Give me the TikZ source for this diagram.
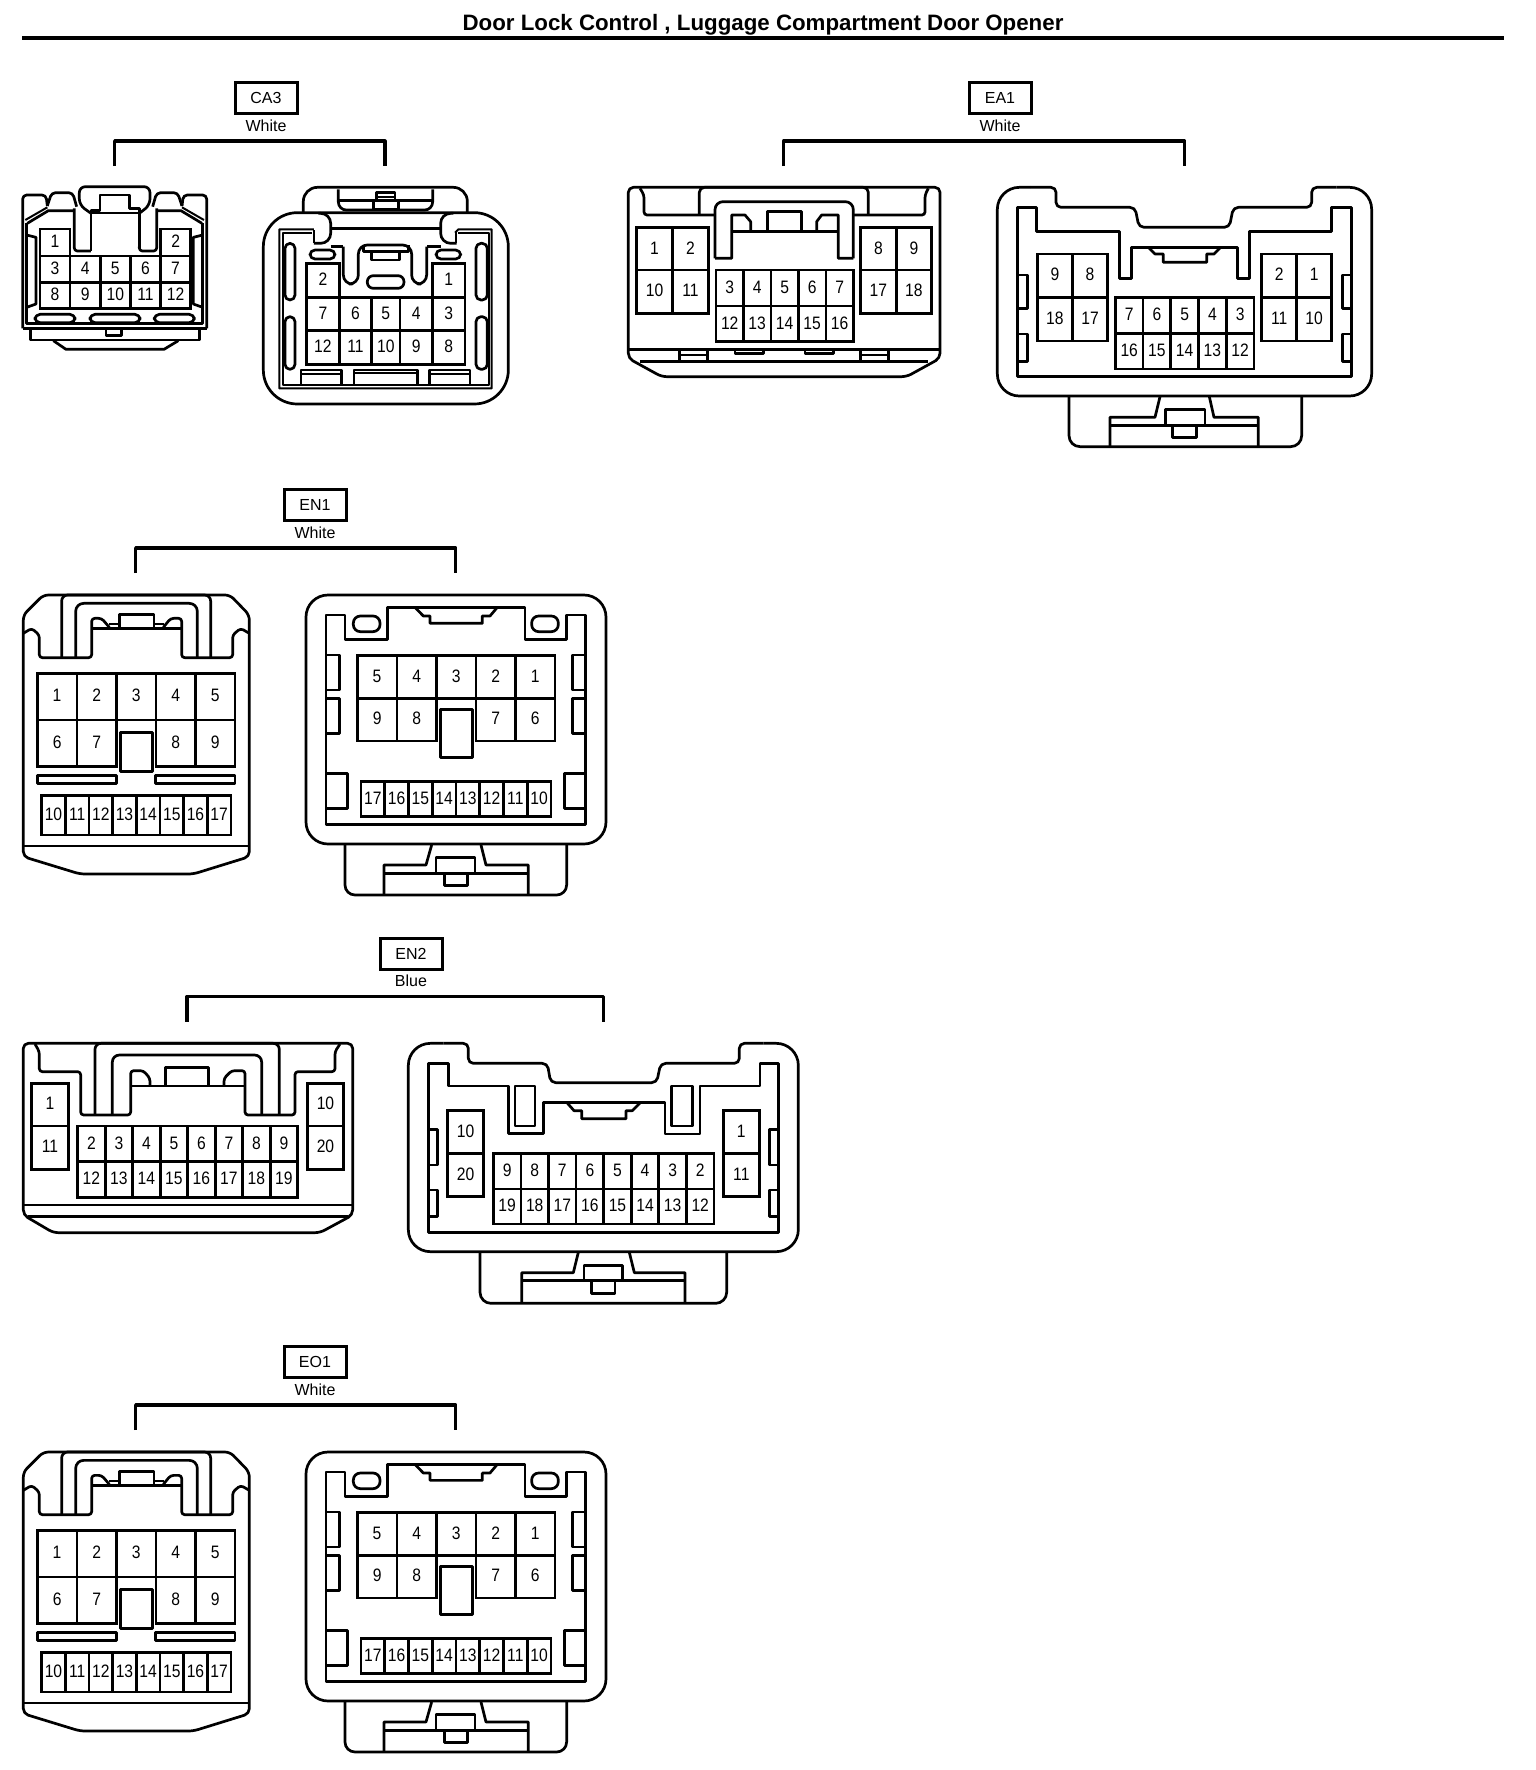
\documentclass[tikz,border=0pt]{standalone}
\usepackage{fontspec}
\setmainfont{Liberation Sans}
\newfontfamily\cellfont[FakeStretch=0.87]{Liberation Sans}
\usetikzlibrary{positioning}
\tikzset{
	outline/.style={line width=2.7pt,line join=round},
	thinline/.style={line width=2pt,line join=round},
	cell/.style={draw,line width=2.7pt,inner sep=0pt,text depth=2pt,font=\cellfont\fontsize{18}{18}\selectfont},
	conn box/.style={draw,line width=3pt,inner sep=0pt,minimum width=62pt,minimum height=31pt,font=\fontsize{16}{16}\selectfont},
	conn text/.style={inner sep=0pt,font=\fontsize{16}{16}\selectfont},
	bracket/.style={line width=3.2pt,line join=round}
}
% one row of cells: prefix, left, top, cell width, cell height, labels
\newcommand{\cellrow}[6]{%
	\foreach \lbl [count=\i from 0] in {#6}
	\node[cell,minimum width=#4/3,minimum height=#5/3] (#1\lbl) at ({#2+\i*#4+#4/2},{#3+#5/2}) {\lbl};
}
% label box, colour and the bracket under it
\newcommand{\connlabel}[7]{%
	\node[conn box] (#1box) at (#3,#4) {#2};
	\node[conn text,below=4.5pt of #1box] (#1col) {#5};
	\coordinate (#1left) at (#6,#4+68);
	\coordinate (#1right) at (#7,#4+68);
	\draw[bracket] (#1left) -- ++(0,-25) -| (#1right);
}
\begin{document}
\begin{tikzpicture}[x=1pt,y=-1pt]
	\useasboundingbox (0,0) rectangle (1536,1770);
	\node[inner sep=0pt,font=\bfseries\fontsize{22.3}{22.3}\selectfont] (title) at (763,25) {Door Lock Control , Luggage Compartment Door Opener};
	\coordinate (ruleleft) at (22,38);
	\coordinate (ruleright) at (1504,38);
	\draw[line width=4pt] (ruleleft) -- (ruleright);

	% CA3
	\connlabel{ca}{CA3}{266}{98}{White}{114.6}{385}
	\begin{scope}[shift={(10,180)},scale=1/3]
		\draw[outline,rounded corners=4pt] (38,445) -- (38,45) -- (108,45) -- (112,78);
		\draw[outline,rounded corners=4pt] (590,445) -- (590,45) -- (520,45) -- (516,78);
		\draw[outline,rounded corners=4pt] (112,78) -- (125,38) -- (188,38) -- (200,80);
		\draw[outline,rounded corners=4pt] (516,78) -- (503,38) -- (440,38) -- (428,80);
		\draw[outline,rounded corners=6pt] (243,100) -- (208,75) -- (208,20) -- (420,20) -- (420,75) -- (388,100);
		\draw[outline] (243,213) -- (243,92) -- (270,92) -- (270,45) -- (358,45) -- (358,85) -- (388,85) -- (388,205);
		\draw[thinline] (243,98) -- (388,98);
		\draw[outline,rounded corners=3pt] (388,200) -- (388,213) -- (440,213) -- (440,85);
		\draw[outline,rounded corners=3pt] (243,213) -- (193,213) -- (193,85);
		\draw[outline] (52,130) -- (115,92) -- (193,92);
		\draw[thinline] (46,120) -- (112,82);
		\draw[outline] (576,130) -- (513,92) -- (440,92);
		\draw[thinline] (582,120) -- (516,82);
		\draw[outline] (50,130) -- (50,430) -- (578,430) -- (578,130);
		\draw[outline] (50,165) -- (78,172) -- (78,372) -- (50,382);
		\draw[outline] (578,165) -- (550,172) -- (550,372) -- (578,382);
		\draw[outline] (38,445) -- (590,445);
		\draw[outline] (62,447) -- (62,480) -- (568,480) -- (568,447);
		\draw[outline] (288,450) -- (288,466) -- (335,466) -- (335,450);
		\draw[outline] (130,482) -- (168,508) -- (462,508) -- (505,482);
		\draw[outline,rounded corners=5pt] (75,403) rectangle (195,428);
		\draw[outline,rounded corners=5pt] (240,403) rectangle (390,428);
		\draw[outline,rounded corners=5pt] (433,403) rectangle (553,428);
		\cellrow{caa}{90}{147}{90}{81}{1}
		\cellrow{caa}{452}{147}{90}{81}{2}
		\cellrow{caa}{90}{228}{90.4}{79.5}{3,4,5,6,7}
		\cellrow{caa}{90}{307}{90.4}{79.5}{8,9,10,11,12}

		\draw[outline,rounded corners=34pt] (760,98) rectangle (1495,672);
		\draw[outline,rounded corners=14pt] (880,98) -- (880,22) -- (1372,22) -- (1372,98);
		\draw[outline,rounded corners=8pt] (985,28) -- (985,90) -- (1268,90) -- (1268,28);
		\draw[outline] (985,62) -- (1268,62);
		\draw[outline] (1090,62) -- (1090,88) -- (1165,88) -- (1165,62);
		\draw[outline] (1100,62) -- (1100,38) -- (1155,38) -- (1155,62);
		\draw[thinline] (1100,50) -- (1155,50);
		\draw[thinline] (912,148) -- (808,148) -- (808,625) -- (1445,625) -- (1445,148) -- (1345,148) -- (1335,158);
		\draw[thinline] (905,160) -- (820,160) -- (820,615) -- (1437,615) -- (1437,160) -- (1345,160);
		\draw[outline,rounded corners=10pt] (912,190) -- (962,190) -- (962,100) -- (925,100);
		\draw[outline,rounded corners=10pt] (1340,190) -- (1292,190) -- (1292,100) -- (1330,100);
		\draw[thinline] (912,150) -- (912,190);
		\draw[thinline] (1338,155) -- (1338,190);
		\draw[outline] (962,145) -- (1292,145);
		\draw[outline] (962,200) -- (1000,200);
		\draw[outline] (1292,200) -- (1250,200);
		\draw[outline,rounded corners=9pt] (1000,200) -- (1000,312) -- (1045,312) -- (1045,195) -- (1205,195) -- (1205,312) -- (1250,312) -- (1250,200);
		\draw[outline] (1060,195) -- (1060,215) -- (1195,215) -- (1195,195);
		\draw[outline] (1085,218) -- (1085,240) -- (1168,240) -- (1168,218);
		\draw[outline,rounded corners=5pt] (900,210) rectangle (975,237);
		\draw[outline,rounded corners=5pt] (1278,210) rectangle (1352,237);
		\draw[outline,rounded corners=6pt] (1072,287) rectangle (1182,325);
		\draw[outline,rounded corners=5pt] (825,190) rectangle (855,360);
		\draw[outline,rounded corners=5pt] (825,410) rectangle (855,568);
		\draw[outline,rounded corners=5pt] (1398,190) rectangle (1432,360);
		\draw[outline,rounded corners=5pt] (1398,410) rectangle (1432,568);
		\draw[outline] (873,615) -- (873,570) -- (995,570) -- (995,615);
		\draw[thinline] (873,582) -- (995,582);
		\draw[outline] (1032,615) -- (1032,570) -- (1222,570) -- (1222,615);
		\draw[thinline] (1032,580) -- (1222,580);
		\draw[outline] (1258,615) -- (1258,570) -- (1380,570) -- (1380,615);
		\draw[thinline] (1258,582) -- (1380,582);
		\cellrow{cab}{890}{250}{98}{102}{2}
		\cellrow{cab}{1268}{250}{97}{102}{1}
		\cellrow{cab}{890}{352}{97.5}{100}{7,6}
		\cellrow{cab}{1085}{352}{85}{100}{5}
		\cellrow{cab}{1170}{352}{97.5}{100}{4,3}
		\cellrow{cab}{890}{452}{97.5}{101}{12,11}
		\cellrow{cab}{1085}{452}{85}{101}{10}
		\cellrow{cab}{1170}{452}{97.5}{101}{9,8}
	\end{scope}

	% EA1
	\connlabel{ea}{EA1}{1000}{98}{White}{783.7}{1184.7}
	\begin{scope}[shift={(620,180)},scale=1/3]
		\draw[outline,rounded corners=5pt] (500,22) -- (960,22) -- (960,535) -- (860,590) -- (125,590) -- (25,535) -- (25,22) -- cycle;
		\draw[outline] (25,508) -- (960,508);
		\draw[outline] (60,545) -- (925,545);
		\draw[outline,rounded corners=3pt] (60,25) -- (72,45) -- (72,105) -- (285,105);
		\draw[outline,rounded corners=3pt] (925,25) -- (915,45) -- (915,105) -- (700,105);
		\draw[outline,rounded corners=5pt] (238,105) -- (238,22) -- (745,22) -- (745,105);
		\draw[outline,rounded corners=8pt] (285,235) -- (285,65) -- (700,65) -- (700,235);
		\draw[outline] (285,235) -- (335,235) -- (335,105) -- (375,105) -- (392,125) -- (392,155);
		\draw[outline] (700,235) -- (655,235) -- (655,105) -- (605,105) -- (590,125) -- (590,155);
		\draw[outline] (335,155) -- (655,155);
		\draw[outline] (442,155) -- (442,95) -- (545,95) -- (545,155);
		\draw[outline] (178,510) -- (178,545);
		\draw[outline] (262,510) -- (262,545);
		\draw[thinline] (178,526) -- (262,526);
		\draw[outline] (722,510) -- (722,545);
		\draw[outline] (805,510) -- (805,545);
		\draw[thinline] (722,526) -- (805,526);
		\draw[outline] (345,510) -- (345,520) -- (430,520) -- (430,510);
		\draw[outline] (555,510) -- (555,520) -- (640,520) -- (640,510);
		\cellrow{eaa}{50}{143}{107.5}{127}{1,2}
		\cellrow{eaa}{50}{270}{107.5}{130}{10,11}
		\cellrow{eaa}{722}{143}{106.5}{127}{8,9}
		\cellrow{eaa}{722}{270}{106.5}{130}{17,18}
		\cellrow{eaa}{288}{270}{82.4}{108}{3,4,5,6,7}
		\cellrow{eaa}{288}{378}{82.4}{107}{12,13,14,15,16}
	\end{scope}
	\begin{scope}[shift={(990,180)},scale=1/3]
		\draw[outline,rounded corners=22pt] (120,22) -- (22,22) -- (22,648) -- (1145,648) -- (1145,22) -- (1040,22);
		\draw[outline,rounded corners=5pt] (120,22) -- (198,22) -- (198,82) -- (435,82) -- (447,142) -- (718,142) -- (730,82) -- (965,82) -- (965,22) -- (1040,22);
		\draw[outline] (140,155) -- (140,82) -- (82,82) -- (82,590) -- (1085,590) -- (1085,82) -- (1025,82) -- (1025,155) -- (778,155) -- (778,295) -- (742,295) -- (742,202) -- (425,202) -- (425,295) -- (388,295) -- (388,155) -- cycle;
		\draw[outline] (475,202) -- (495,222) -- (520,222) -- (520,247) -- (650,247) -- (650,222) -- (672,222) -- (692,202);
		\draw[outline] (82,285) -- (112,285) -- (112,385) -- (82,385);
		\draw[outline] (82,462) -- (112,462) -- (112,545) -- (82,545);
		\draw[outline] (1085,285) -- (1058,285) -- (1058,385) -- (1085,385);
		\draw[outline] (1085,462) -- (1058,462) -- (1058,545) -- (1085,545);
		\draw[outline,rounded corners=11pt] (237,650) -- (237,800) -- (935,800) -- (935,650);
		\draw[outline] (510,650) -- (495,712) -- (360,712) -- (360,800);
		\draw[outline] (658,650) -- (672,712) -- (805,712) -- (805,800);
		\draw[outline] (360,737) -- (805,737);
		\draw[outline] (527,737) -- (527,688) -- (645,688) -- (645,737);
		\draw[outline] (548,737) -- (548,773) -- (620,773) -- (620,737);
		\cellrow{eab}{142}{222}{105.5}{130}{9,8}
		\cellrow{eab}{142}{352}{105.5}{131}{18,17}
		\cellrow{eab}{815}{222}{105}{130}{2,1}
		\cellrow{eab}{815}{352}{105}{131}{11,10}
		\cellrow{eab}{376}{352}{83.2}{108}{7,6,5,4,3}
		\cellrow{eab}{376}{460}{83.2}{107}{16,15,14,13,12}
	\end{scope}

	% EN1 and EO1 are the same connector
	\foreach \nm/\txt/\dy in {en/EN1/0,eo/EO1/857}{
		\connlabel{\nm}{\txt}{315}{505+\dy}{White}{135.6}{455.8}
		\begin{scope}[shift={(10,590+\dy)},scale=1/3]
			\draw[outline,rounded corners=5pt] (380,15) -- (660,15) -- (718,75) -- (718,800) -- (550,852) -- (210,852) -- (40,800) -- (40,75) -- (100,15) -- cycle;
			\draw[outline] (40,768) -- (718,768);
			\draw[outline,rounded corners=3pt] (40,130) -- (65,115) -- (88,135) -- (88,203) -- (245,203) -- (245,85) -- (275,85) -- (298,112);
			\draw[outline,rounded corners=3pt] (718,130) -- (692,115) -- (668,135) -- (668,203) -- (515,203) -- (515,85) -- (482,85) -- (460,112);
			\draw[outline] (245,115) -- (515,115);
			\draw[thinline] (298,103) -- (330,103);
			\draw[thinline] (430,103) -- (462,103);
			\draw[outline] (328,112) -- (328,73) -- (432,73) -- (432,112);
			\draw[outline,rounded corners=6pt] (155,203) -- (155,15) -- (602,15) -- (602,203);
			\draw[outline,rounded corners=8pt] (197,203) -- (197,40) -- (562,40) -- (562,203);
			\draw[outline] (331,427) rectangle (427,545);
			\draw[outline] (82,556) rectangle (320,580);
			\draw[outline] (436,556) rectangle (675,580);
			\cellrow{\nm a}{82}{250}{118.6}{140}{1,2,3,4,5}
			\cellrow{\nm a}{82}{390}{119}{140}{6,7}
			\cellrow{\nm a}{438}{390}{118.5}{140}{8,9}
			\cellrow{\nm a}{95}{617}{71}{118}{10,11,12,13,14,15,16,17}

			\begin{scope}[shift={(870,0)}]
				\draw[outline,rounded corners=22pt] (18,15) rectangle (918,762);
				\draw[outline] (78,75) -- (135,75) -- (135,148) -- (262,148) -- (262,52) -- (675,52) -- (675,148) -- (800,148) -- (800,75) -- (857,75) -- (857,703) -- (78,703) -- cycle;
				\draw[outline] (345,52) -- (370,78) -- (390,78) -- (390,100) -- (547,100) -- (547,78) -- (570,78) -- (592,52);
				\draw[outline,rounded corners=7pt] (160,78) rectangle (240,125);
				\draw[outline,rounded corners=7pt] (695,78) rectangle (775,125);
				\draw[outline] (78,195) -- (118,195) -- (118,300) -- (78,300);
				\draw[outline] (78,325) -- (118,325) -- (118,430) -- (78,430);
				\draw[outline] (857,195) -- (818,195) -- (818,300) -- (857,300);
				\draw[outline] (857,325) -- (818,325) -- (818,430) -- (857,430);
				\draw[outline] (78,550) -- (142,550) -- (142,655) -- (78,655);
				\draw[outline] (857,550) -- (793,550) -- (793,655) -- (857,655);
				\draw[outline] (421,358) rectangle (517,503);
				\draw[outline,rounded corners=10pt] (135,765) -- (135,915) -- (800,915) -- (800,765);
				\draw[outline] (395,765) -- (378,825) -- (252,825) -- (252,915);
				\draw[outline] (543,765) -- (558,825) -- (685,825) -- (685,915);
				\draw[outline] (252,850) -- (685,850);
				\draw[outline] (408,850) -- (408,802) -- (525,802) -- (525,850);
				\draw[outline] (433,850) -- (433,887) -- (502,887) -- (502,850);
				\cellrow{\nm b}{172}{197}{118.6}{128}{5,4,3,2,1}
				\cellrow{\nm b}{172}{325}{119}{128}{9,8}
				\cellrow{\nm b}{528}{325}{118.5}{128}{7,6}
				\cellrow{\nm b}{183}{575}{71.25}{105}{17,16,15,14,13,12,11,10}
			\end{scope}
		\end{scope}
	}

	% EN2
	\connlabel{eb}{EN2}{411}{953.5}{Blue}{187}{603.5}
	\begin{scope}[shift={(10,1040)},scale=1/3]
		\draw[outline,rounded corners=5pt] (500,10) -- (1028,10) -- (1028,525) -- (930,578) -- (130,578) -- (40,525) -- (40,10) -- cycle;
		\draw[outline] (40,495) -- (1028,495);
		\draw[outline] (55,530) -- (1015,530);
		\draw[outline,rounded corners=3pt] (75,12) -- (88,35) -- (88,95) -- (212,95) -- (212,225) -- (362,225) -- (362,92) -- (400,92) -- (420,115) -- (420,135);
		\draw[outline,rounded corners=3pt] (990,12) -- (975,35) -- (975,95) -- (855,95) -- (855,225) -- (705,225) -- (705,92) -- (665,92) -- (642,115) -- (642,135);
		\draw[outline] (362,138) -- (705,138);
		\draw[outline] (467,138) -- (467,82) -- (595,82) -- (595,138);
		\draw[outline,rounded corners=6pt] (255,225) -- (255,10) -- (808,10) -- (808,225);
		\draw[outline,rounded corners=7pt] (307,225) -- (307,45) -- (755,45) -- (755,225);
		\cellrow{eba}{65}{130}{110}{128}{1}
		\cellrow{eba}{65}{258}{110}{130}{11}
		\cellrow{eba}{893}{130}{107}{128}{10}
		\cellrow{eba}{893}{258}{107}{130}{20}
		\cellrow{eba}{203}{258}{82.5}{107}{2,3,4,5,6,7,8,9}
		\cellrow{eba}{203}{365}{82.5}{107}{12,13,14,15,16,17,18,19}
	\end{scope}
	\begin{scope}[shift={(400,1040)},scale=1/3]
		\draw[outline,rounded corners=22pt] (130,10) -- (25,10) -- (25,635) -- (1195,635) -- (1195,10) -- (1090,10);
		\draw[outline,rounded corners=5pt] (130,10) -- (205,10) -- (205,70) -- (442,70) -- (452,128) -- (770,128) -- (782,70) -- (1018,70) -- (1018,10) -- (1090,10);
		\draw[outline] (145,138) -- (145,70) -- (85,70) -- (85,577) -- (1135,577) -- (1135,70) -- (1080,70) -- (1080,138) -- (900,138) -- (900,282) -- (795,282) -- (795,187) -- (430,187) -- (430,280) -- (325,280) -- (325,138) -- cycle;
		\draw[outline] (345,138) rectangle (405,258);
		\draw[outline] (815,138) rectangle (877,258);
		\draw[outline] (500,187) -- (522,212) -- (545,212) -- (545,236) -- (678,236) -- (678,212) -- (697,212) -- (722,187);
		\draw[outline] (85,268) -- (113,268) -- (113,375) -- (85,375);
		\draw[outline] (85,450) -- (113,450) -- (113,530) -- (85,530);
		\draw[outline] (1135,268) -- (1108,268) -- (1108,375) -- (1135,375);
		\draw[outline] (1135,450) -- (1108,450) -- (1108,530) -- (1135,530);
		\draw[outline,rounded corners=11pt] (240,637) -- (240,790) -- (980,790) -- (980,637);
		\draw[outline] (535,637) -- (520,698) -- (365,698) -- (365,790);
		\draw[outline] (688,637) -- (703,698) -- (855,698) -- (855,790);
		\draw[outline] (365,722) -- (855,722);
		\draw[outline] (552,722) -- (552,677) -- (668,677) -- (668,722);
		\draw[outline] (575,722) -- (575,760) -- (645,760) -- (645,722);
		\cellrow{ebb}{143}{212}{107}{128}{10}
		\cellrow{ebb}{143}{340}{107}{130}{20}
		\cellrow{ebb}{970}{212}{108}{128}{1}
		\cellrow{ebb}{970}{340}{108}{130}{11}
		\cellrow{ebb}{280}{340}{82.75}{107}{9,8,7,6,5,4,3,2}
		\cellrow{ebb}{280}{447}{82.75}{105}{19,18,17,16,15,14,13,12}
	\end{scope}
\end{tikzpicture}
\end{document}
